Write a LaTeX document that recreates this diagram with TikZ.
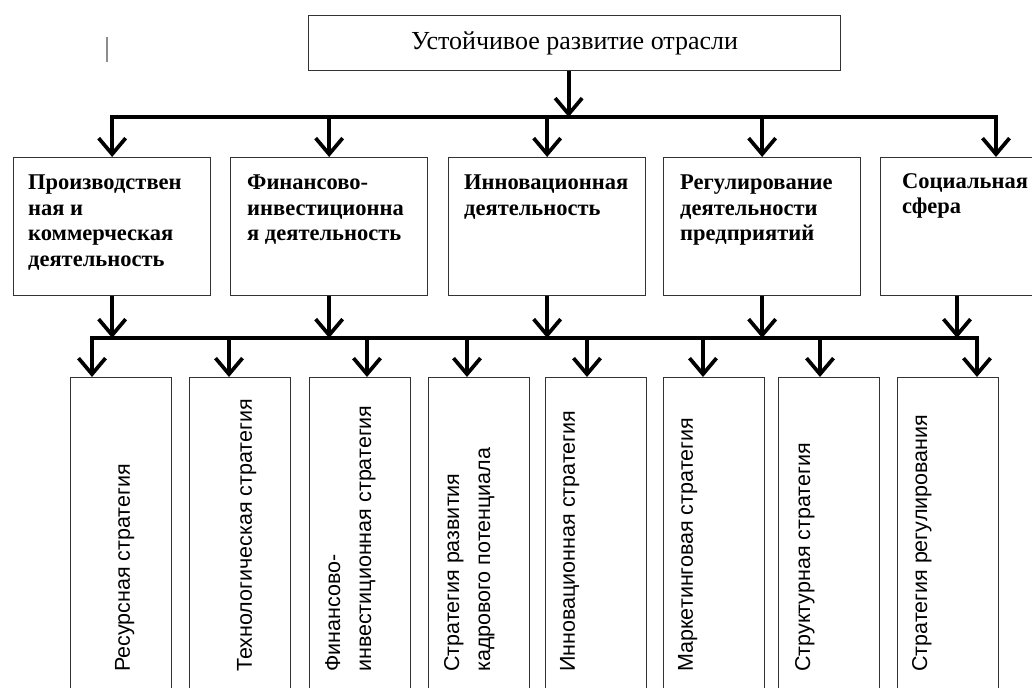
\documentclass[tikz,border=0pt]{standalone}
\usepackage{fontspec}
\setmainfont{Liberation Serif}
\newfontfamily\arialfont{Liberation Sans}
\usetikzlibrary{arrows.meta, positioning}

\tikzset{
  box/.style={draw=black!80, line width=1.3bp, anchor=north west, inner sep=0pt},
  midbox/.style={box, minimum width=197bp, minimum height=138bp},
  stratbox/.style={box, minimum width=101bp, minimum height=340bp},
  midtext/.style={anchor=north west, inner sep=0pt, align=left,
    font=\bfseries\fontsize{22.5bp}{25.5bp}\selectfont},
  strattext/.style={anchor=north west, inner sep=0pt, rotate=90, align=left,
    font=\arialfont\fontsize{21.5bp}{31bp}\selectfont},
  arr/.style={-{Straight Barb[length=16bp,width=27bp]}, line width=3.7bp},
}

\begin{document}
\begin{tikzpicture}[x=1bp, y=-1bp]
  \useasboundingbox (0,0) rectangle (1032,688);

  % stray mark
  \draw[black!45, line width=2.5bp] (107,37) -- (107,62);

  % top
  \node[box, minimum width=532bp, minimum height=55bp,
        font=\fontsize{26bp}{30bp}\selectfont] (top) at (308,15)
        {Устойчивое развитие отрасли};

  % areas
  \node[midbox] (m1) at (13,157) {};
  \node[midbox] (m2) at (230,157) {};
  \node[midbox] (m3) at (448,157) {};
  \node[midbox] (m4) at (663,157) {};
  \node[midbox] (m5) at (880,157) {};

  \node[midtext] (m1t) at ([shift={(15,18)}]m1.north west)
    {Производствен\\ная и\\коммерческая\\деятельность};
  \node[midtext] (m2t) at ([shift={(17,18)}]m2.north west)
    {Финансово-\\инвестиционна\\я деятельность};
  \node[midtext] (m3t) at ([shift={(16,18)}]m3.north west)
    {Инновационная\\деятельность};
  \node[midtext] (m4t) at ([shift={(17,18)}]m4.north west)
    {Регулирование\\деятельности\\предприятий};
  \node[midtext] (m5t) at ([shift={(22,16)}]m5.north west)
    {Социальная\\сфера};

  % strategies
  \node[stratbox] (b1) at (70,377) {};
  \node[stratbox] (b2) at (189,377) {};
  \node[stratbox] (b3) at (309,377) {};
  \node[stratbox] (b4) at (428,377) {};
  \node[stratbox] (b5) at (545,377) {};
  \node[stratbox] (b6) at (663,377) {};
  \node[stratbox] (b7) at (778,377) {};
  \node[stratbox] (b8) at (897,377) {};

  \node[strattext] (s1) at (115,672) {Ресурсная стратегия};
  \node[strattext] (s2) at (237,672) {Технологическая стратегия};
  \node[strattext] (s3) at (325,672) {Финансово-\\инвестиционная стратегия};
  \node[strattext] (s4) at (444,672) {Стратегия развития\\кадрового потенциала};
  \node[strattext] (s5) at (560,672) {Инновационная стратегия};
  \node[strattext] (s6) at (678,672) {Маркетинговая стратегия};
  \node[strattext] (s7) at (795,672) {Структурная стратегия};
  \node[strattext] (s8) at (912,672) {Стратегия регулирования};

  % connectors
  \coordinate (bus1) at (0,117);
  \coordinate (bus2) at (0,338);
  \coordinate (topout) at ([xshift=-6bp]top.south);

  \draw[arr] (topout) -- (topout |- bus1);
  \draw[arr] (topout |- bus1) -| (m1.north);
  \draw[arr] (topout |- bus1) -| ([xshift=116bp]m5.north west);
  \foreach \i in {2,3,4}
    \draw[arr] (m\i.north |- bus1) -- (m\i.north);

  \foreach \i in {1,...,4}
    \draw[arr] (m\i.south) -- (m\i.south |- bus2);
  \draw[arr] ([xshift=77bp]m5.south west) -- ([xshift=77bp]m5.south west |- bus2);

  \draw[arr] (m3.south |- bus2) -| ([xshift=22bp]b1.north west);
  \draw[arr] (m3.south |- bus2) -| ([xshift=80bp]b8.north west);
  \foreach \i/\dx in {2/40,3/58,4/39,5/42,6/40,7/42}
    \draw[arr] ([xshift=\dx bp]b\i.north west |- bus2) -- ([xshift=\dx bp]b\i.north west);
\end{tikzpicture}
\end{document}
